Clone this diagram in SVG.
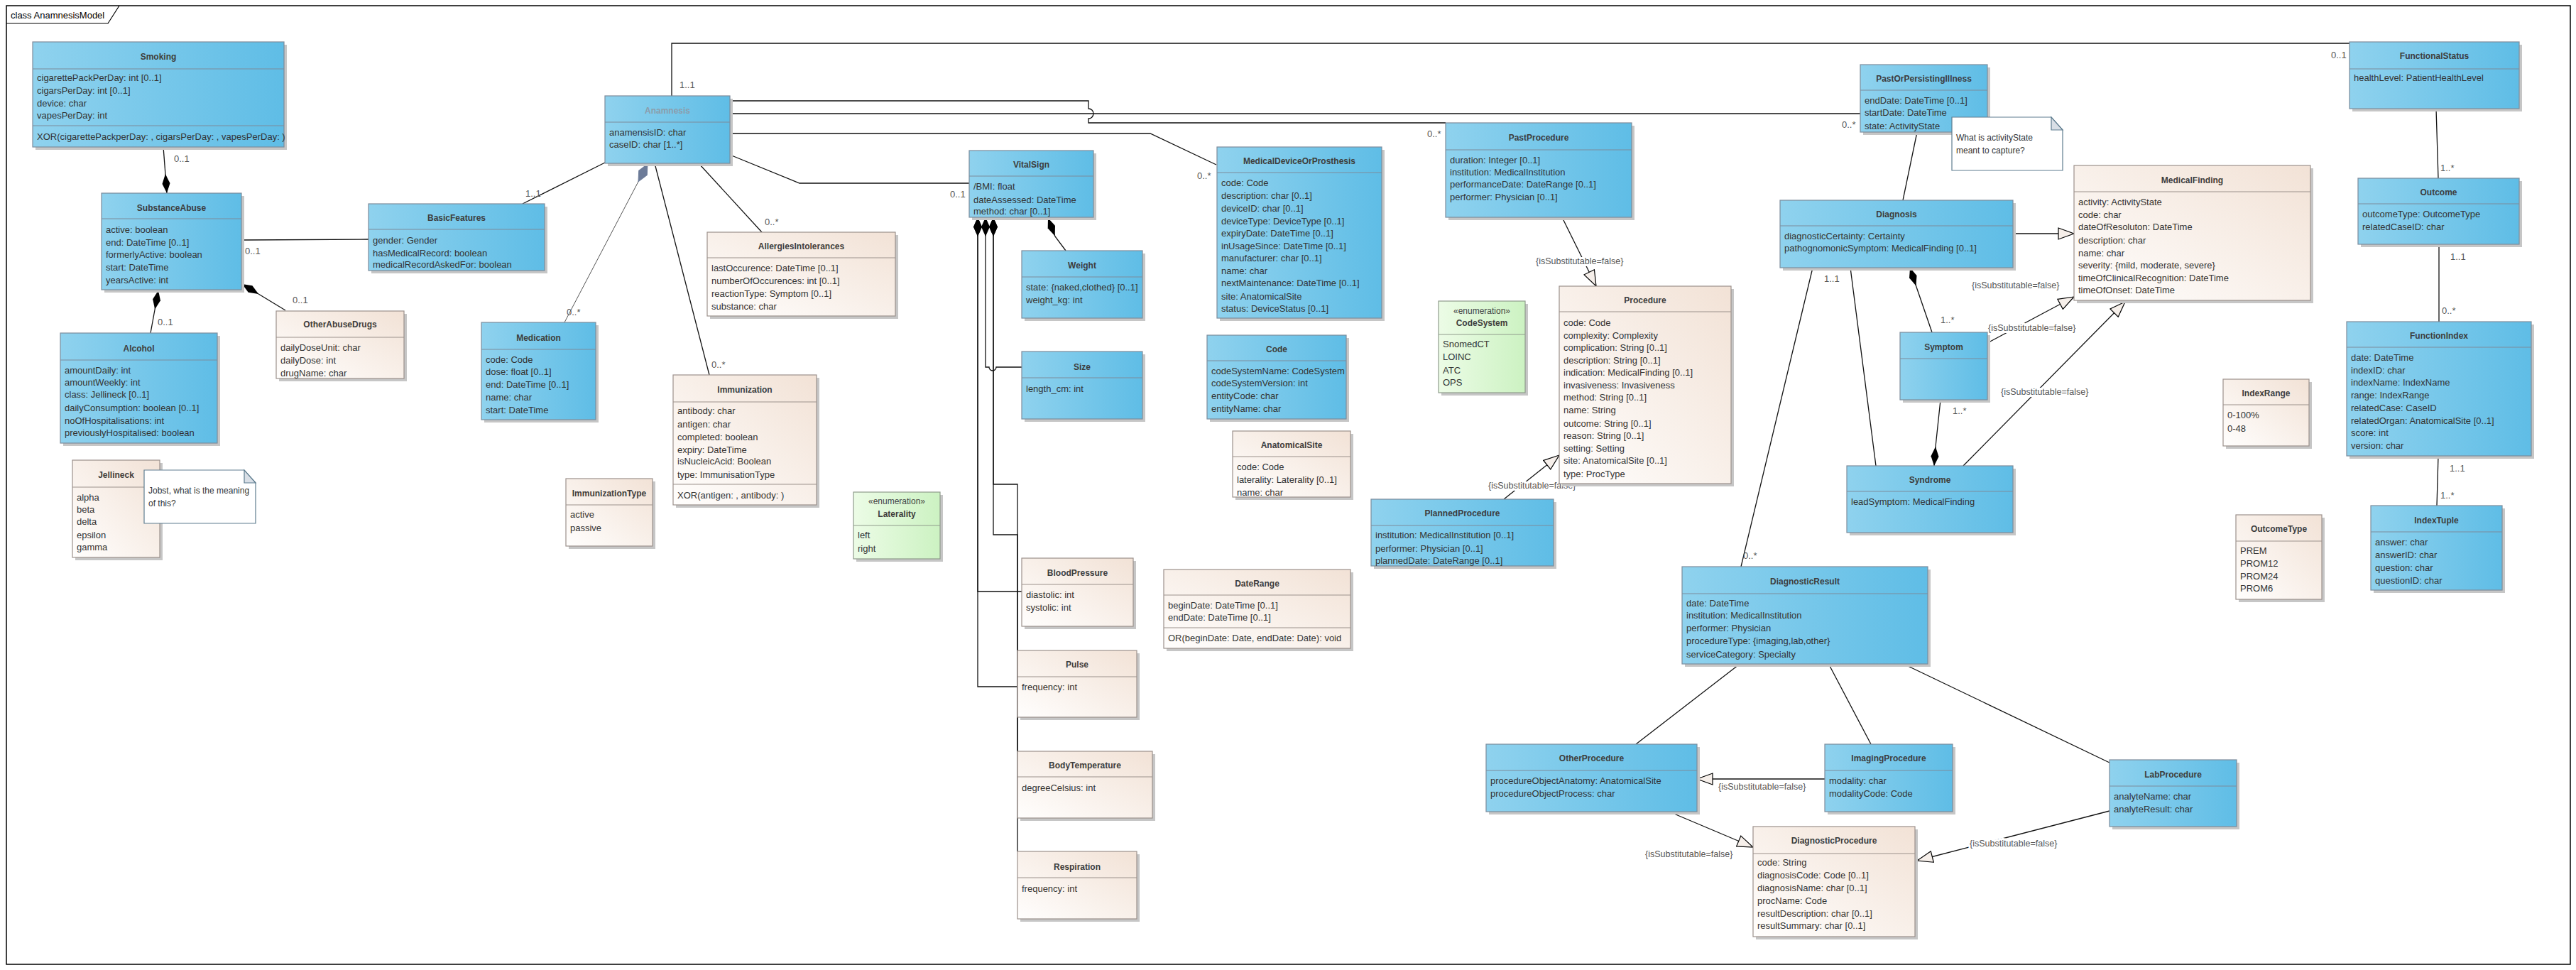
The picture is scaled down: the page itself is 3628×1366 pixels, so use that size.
<svg xmlns="http://www.w3.org/2000/svg" width="3628" height="1366" viewBox="0 0 3628 1366">
<defs>
<linearGradient id="gb" x1="0" y1="0" x2="1" y2="0"><stop offset="0" stop-color="#8fd2ee"/><stop offset="1" stop-color="#5fbde6"/></linearGradient>
<linearGradient id="gw" x1="0" y1="1" x2="1" y2="0"><stop offset="0" stop-color="#fffefd"/><stop offset="1" stop-color="#f2e2d6"/></linearGradient>
<linearGradient id="gg" x1="0" y1="0" x2="1" y2="0"><stop offset="0" stop-color="#ecfce6"/><stop offset="1" stop-color="#ccf2c2"/></linearGradient>
<marker id="dia" markerUnits="userSpaceOnUse" viewBox="0 -7 28 14" refX="0" refY="0" markerWidth="28" markerHeight="14" orient="auto"><path d="M0,0 L13.5,-5.5 L27,0 L13.5,5.5 Z" fill="#000"/></marker>
<marker id="diaw" markerUnits="userSpaceOnUse" viewBox="0 -7 28 14" refX="0" refY="0" markerWidth="28" markerHeight="14" orient="auto"><path d="M0,0 L13.5,-6 L27,0 L13.5,6 Z" fill="#000"/></marker>
<marker id="agg" markerUnits="userSpaceOnUse" viewBox="0 -8 30 16" refX="0" refY="0" markerWidth="30" markerHeight="16" orient="auto"><path d="M0,0 L14,-6.5 L28,0 L14,6.5 Z" fill="#6c7b98" stroke="#6c7b98"/></marker>
<marker id="gen" markerUnits="userSpaceOnUse" viewBox="-1 -1 24 18" refX="22" refY="8" markerWidth="24" markerHeight="18" orient="auto"><path d="M0,0 L22,8 L0,16 Z" fill="#f6efea" stroke="#000" stroke-width="1.2"/></marker>
</defs>
<style>
text{font-family:"Liberation Sans",Arial,sans-serif}
.t{font-size:12px;font-weight:bold;fill:#3d3d3d;text-anchor:middle}
.tg{font-size:12px;font-weight:bold;fill:#8c9cab;text-anchor:middle}
.st{font-size:12px;fill:#444;text-anchor:middle}
.a{font-size:13px;fill:#333}
.nt{font-size:12px;fill:#333}
.m{font-size:13px;fill:#555}
.s{font-size:12.5px;fill:#555;stroke:#fff;stroke-width:6;paint-order:stroke;stroke-linejoin:round}
.fr{font-size:13px;fill:#000}
.sh{fill:#c6c6c6}
.blue{fill:url(#gb);stroke:#7c8c9c;stroke-width:1.2}
.beige{fill:url(#gw);stroke:#9c918c;stroke-width:1.2}
.green{fill:url(#gg);stroke:#8f9c8c;stroke-width:1.2}
.sb{fill:none;stroke:#7c8c9c;stroke-width:1.2}
.sw{fill:none;stroke:#9c918c;stroke-width:1.2}
.sg{fill:none;stroke:#8f9c8c;stroke-width:1.2}
.note{fill:#fff;stroke:#5f7d8f;stroke-width:1.2}
.fold{fill:#d9dfe6;stroke:#5f7d8f;stroke-width:1.2}
.c{fill:none;stroke:#111;stroke-width:1.3}
.cg{fill:none;stroke:#555;stroke-width:1}
</style>
<rect x="0" y="0" width="3628" height="1366" fill="#fff"/>
<g id="frame">
<rect x="9" y="8" width="3611" height="1350" fill="none" stroke="#000" stroke-width="1.5"/>
<path d="M9,33 H152 L168,8" fill="none" stroke="#000" stroke-width="1.2"/>
<text class="fr" x="15" y="26">class AnamnesisModel</text>
</g>

<g id="connectors">
<path class="c" marker-start="url(#dia)" d="M235,272 L230,207"/>
<path class="c" d="M341,338 L519,337"/>
<path class="c" d="M852,229 L736,287"/>
<path class="c" marker-start="url(#dia)" d="M341,400 L402,437"/>
<path class="c" marker-start="url(#dia)" d="M223,409 L212,469"/>
<path class="cg" marker-start="url(#agg)" d="M912,231 L795,454"/>
<path class="c" d="M946,135 V61 H3309"/>
<path class="c" d="M1028,142 H1533 V153 A7,7 0 0 1 1533,167 V173 H2036"/>
<path class="c" d="M1028,160 H2620"/>
<path class="c" d="M1028,188 H1620 L1713,232"/>
<path class="c" d="M1028,218 L1126,258 H1365"/>
<path class="c" d="M984,230 L1073,327"/>
<path class="c" d="M922,230 L999,528"/>
<path class="c" marker-start="url(#dia)" d="M1476,307 L1486,333 L1501,353"/>
<path class="c" marker-start="url(#diaw)" d="M1377,306 V833 H1439"/>
<path class="c" marker-start="url(#diaw)" d="M1377,306 V967 H1433"/>
<path class="c" marker-start="url(#diaw)" d="M1388,306 V517 H1393 A5,5 0 0 0 1403,517 H1439"/>
<path class="c" marker-start="url(#diaw)" d="M1399,306 V682 H1433 V1058"/>
<path class="c" marker-start="url(#diaw)" d="M1399,306 V753 H1433 V1199"/>
<path class="c" d="M2700,186 L2680,282"/>
<path class="c" marker-end="url(#gen)" d="M2200,306 L2248,403"/>
<path class="c" marker-end="url(#gen)" d="M2118,703 L2196,641"/>
<path class="c" d="M2553,377 L2452,798"/>
<path class="c" d="M2606,377 L2642,656"/>
<path class="c" marker-start="url(#dia)" d="M2690,377 L2699,404 L2721,468"/>
<path class="c" marker-end="url(#gen)" d="M2835,329 L2921,329"/>
<path class="c" marker-end="url(#gen)" d="M2799,483 L2921,418"/>
<path class="c" marker-end="url(#gen)" d="M2765,656 L2993,425"/>
<path class="c" marker-start="url(#dia)" d="M2724,656 L2726,629 L2733,563"/>
<path class="c" d="M3431,153 L3434,251"/>
<path class="c" d="M3435,344 L3435,453"/>
<path class="c" d="M3434,642 L3432,712"/>
<path class="c" d="M2449,936 L2304,1048"/>
<path class="c" d="M2576,936 L2635,1048"/>
<path class="c" d="M2683,936 L2971,1074"/>
<path class="c" marker-end="url(#gen)" d="M2570,1097 L2390,1097"/>
<path class="c" marker-end="url(#gen)" d="M2353,1144 L2469,1193"/>
<path class="c" marker-end="url(#gen)" d="M2971,1142 L2700,1212"/>
<text class="m" x="245" y="228">0..1</text>
<text class="m" x="345" y="358">0..1</text>
<text class="m" x="740" y="277">1..1</text>
<text class="m" x="412" y="427">0..1</text>
<text class="m" x="222" y="458">0..1</text>
<text class="m" x="798" y="444">0..*</text>
<text class="m" x="957" y="124">1..1</text>
<text class="m" x="3283" y="82">0..1</text>
<text class="m" x="2010" y="193">0..*</text>
<text class="m" x="2594" y="180">0..*</text>
<text class="m" x="1686" y="252">0..*</text>
<text class="m" x="1338" y="278">0..1</text>
<text class="m" x="1077" y="317">0..*</text>
<text class="m" x="1002" y="518">0..*</text>
<text class="m" x="2455" y="787">0..*</text>
<text class="m" x="2569" y="397">1..1</text>
<text class="m" x="2733" y="455">1..*</text>
<text class="m" x="2750" y="583">1..*</text>
<text class="m" x="3437" y="241">1..*</text>
<text class="m" x="3451" y="366">1..1</text>
<text class="m" x="3439" y="442">0..*</text>
<text class="m" x="3450" y="664">1..1</text>
<text class="m" x="3437" y="702">1..*</text>
<text class="s" x="2163" y="372">{isSubstitutable=false}</text>
<text class="s" x="2096" y="688">{isSubstitutable=false}</text>
<text class="s" x="2777" y="406">{isSubstitutable=false}</text>
<text class="s" x="2800" y="466">{isSubstitutable=false}</text>
<text class="s" x="2818" y="556">{isSubstitutable=false}</text>
<text class="s" x="2420" y="1112">{isSubstitutable=false}</text>
<text class="s" x="2317" y="1207">{isSubstitutable=false}</text>
<text class="s" x="2774" y="1192">{isSubstitutable=false}</text>
</g>

<g id="n-smoking"><rect class="sh" x="50" y="63" width="354" height="148"/><rect class="blue" x="46" y="59" width="354" height="148"/><path class="sb" d="M46,97H400M46,177H400"/><text class="t" x="223" y="84">Smoking</text><text class="a" x="52" y="114">cigarettePackPerDay: int [0..1]</text><text class="a" x="52" y="132">cigarsPerDay: int [0..1]</text><text class="a" x="52" y="150">device: char</text><text class="a" x="52" y="167">vapesPerDay: int</text><text class="a" x="52" y="197">XOR(cigarettePackperDay: , cigarsPerDay: , vapesPerDay: )</text></g>

<g id="n-substanceabuse"><rect class="sh" x="147" y="276" width="197" height="136"/><rect class="blue" x="143" y="272" width="197" height="136"/><path class="sb" d="M143,308H340"/><text class="t" x="241.5" y="297">SubstanceAbuse</text><text class="a" x="149" y="328">active: boolean</text><text class="a" x="149" y="346">end: DateTime [0..1]</text><text class="a" x="149" y="363">formerlyActive: boolean</text><text class="a" x="149" y="381">start: DateTime</text><text class="a" x="149" y="399">yearsActive: int</text></g>

<g id="n-basicfeatures"><rect class="sh" x="523" y="291" width="248" height="94"/><rect class="blue" x="519" y="287" width="248" height="94"/><path class="sb" d="M519,323H767"/><text class="t" x="643" y="311">BasicFeatures</text><text class="a" x="525" y="343">gender: Gender</text><text class="a" x="525" y="361">hasMedicalRecord: boolean</text><text class="a" x="525" y="377">medicalRecordAskedFor: boolean</text></g>

<g id="n-anamnesis"><rect class="sh" x="856" y="139" width="176" height="95"/><rect class="blue" x="852" y="135" width="176" height="95"/><path class="sb" d="M852,172H1028"/><text class="tg" x="940" y="160">Anamnesis</text><text class="a" x="858" y="191">anamensisID: char</text><text class="a" x="858" y="208">caseID: char [1..*]</text></g>

<g id="n-alcohol"><rect class="sh" x="89" y="473" width="221" height="155"/><rect class="blue" x="85" y="469" width="221" height="155"/><path class="sb" d="M85,507H306"/><text class="t" x="195.5" y="495">Alcohol</text><text class="a" x="91" y="526">amountDaily: int</text><text class="a" x="91" y="543">amountWeekly: int</text><text class="a" x="91" y="560">class: Jellineck [0..1]</text><text class="a" x="91" y="579">dailyConsumption: boolean [0..1]</text><text class="a" x="91" y="597">noOfHospitalisations: int</text><text class="a" x="91" y="614">previouslyHospitalised: boolean</text></g>

<g id="n-otherabusedrugs"><rect class="sh" x="393" y="442" width="180" height="95"/><rect class="beige" x="389" y="438" width="180" height="95"/><path class="sw" d="M389,475H569"/><text class="t" x="479" y="461">OtherAbuseDrugs</text><text class="a" x="395" y="494">dailyDoseUnit: char</text><text class="a" x="395" y="512">dailyDose: int</text><text class="a" x="395" y="530">drugName: char</text></g>

<g id="n-medication"><rect class="sh" x="682" y="458" width="161" height="137"/><rect class="blue" x="678" y="454" width="161" height="137"/><path class="sb" d="M678,492H839"/><text class="t" x="758.5" y="480">Medication</text><text class="a" x="684" y="511">code: Code</text><text class="a" x="684" y="528">dose: float [0..1]</text><text class="a" x="684" y="546">end: DateTime [0..1]</text><text class="a" x="684" y="564">name: char</text><text class="a" x="684" y="582">start: DateTime</text></g>

<g id="n-jellineck"><rect class="sh" x="106" y="652" width="123" height="137"/><rect class="beige" x="102" y="648" width="123" height="137"/><path class="sw" d="M102,686H225"/><text class="t" x="163.5" y="673">Jellineck</text><text class="a" x="108" y="705">alpha</text><text class="a" x="108" y="722">beta</text><text class="a" x="108" y="739">delta</text><text class="a" x="108" y="758">epsilon</text><text class="a" x="108" y="775">gamma</text></g>

<g id="n-note1"><path class="note" d="M203,662 H344 L360,680 V737 H203 Z"/><path class="fold" d="M344,662 V680 H360 Z"/><text class="nt" x="209" y="695">Jobst, what is the meaning</text><text class="nt" x="209" y="713">of this?</text></g>

<g id="n-immunizationtype"><rect class="sh" x="801" y="678" width="122" height="95"/><rect class="beige" x="797" y="674" width="122" height="95"/><path class="sw" d="M797,711H919"/><text class="t" x="858" y="699">ImmunizationType</text><text class="a" x="803" y="729">active</text><text class="a" x="803" y="748">passive</text></g>

<g id="n-immunization"><rect class="sh" x="952" y="532" width="202" height="183"/><rect class="beige" x="948" y="528" width="202" height="183"/><path class="sw" d="M948,566H1150M948,682H1150"/><text class="t" x="1049" y="553">Immunization</text><text class="a" x="954" y="583">antibody: char</text><text class="a" x="954" y="602">antigen: char</text><text class="a" x="954" y="620">completed: boolean</text><text class="a" x="954" y="638">expiry: DateTime</text><text class="a" x="954" y="654">isNucleicAcid: Boolean</text><text class="a" x="954" y="673">type: ImmunisationType</text><text class="a" x="954" y="702">XOR(antigen: , antibody: )</text></g>

<g id="n-allergies"><rect class="sh" x="1000" y="331" width="265" height="118"/><rect class="beige" x="996" y="327" width="265" height="118"/><path class="sw" d="M996,363H1261"/><text class="t" x="1128.5" y="351">AllergiesIntolerances</text><text class="a" x="1002" y="382">lastOccurence: DateTime [0..1]</text><text class="a" x="1002" y="400">numberOfOccurences: int [0..1]</text><text class="a" x="1002" y="418">reactionType: Symptom [0..1]</text><text class="a" x="1002" y="436">substance: char</text></g>

<g id="n-laterality"><rect class="sh" x="1206" y="697" width="122" height="94"/><rect class="green" x="1202" y="693" width="122" height="94"/><path class="sg" d="M1202,740H1324"/><text class="st" x="1263" y="710">«enumeration»</text><text class="t" x="1263" y="728">Laterality</text><text class="a" x="1208" y="758">left</text><text class="a" x="1208" y="777">right</text></g>

<g id="n-vitalsign"><rect class="sh" x="1369" y="216" width="175" height="94"/><rect class="blue" x="1365" y="212" width="175" height="94"/><path class="sb" d="M1365,248H1540"/><text class="t" x="1452.5" y="236">VitalSign</text><text class="a" x="1371" y="267">/BMI: float</text><text class="a" x="1371" y="286">dateAssessed: DateTime</text><text class="a" x="1371" y="302">method: char [0..1]</text></g>

<g id="n-weight"><rect class="sh" x="1443" y="357" width="170" height="95"/><rect class="blue" x="1439" y="353" width="170" height="95"/><path class="sb" d="M1439,390H1609"/><text class="t" x="1524" y="378">Weight</text><text class="a" x="1445" y="409">state: {naked,clothed} [0..1]</text><text class="a" x="1445" y="427">weight_kg: int</text></g>

<g id="n-size"><rect class="sh" x="1443" y="499" width="170" height="95"/><rect class="blue" x="1439" y="495" width="170" height="95"/><path class="sb" d="M1439,532H1609"/><text class="t" x="1524" y="521">Size</text><text class="a" x="1445" y="552">length_cm: int</text></g>

<g id="n-bloodpressure"><rect class="sh" x="1443" y="790" width="157" height="96"/><rect class="beige" x="1439" y="786" width="157" height="96"/><path class="sw" d="M1439,823H1596"/><text class="t" x="1517.5" y="811">BloodPressure</text><text class="a" x="1445" y="842">diastolic: int</text><text class="a" x="1445" y="860">systolic: int</text></g>

<g id="n-pulse"><rect class="sh" x="1437" y="920" width="168" height="94"/><rect class="beige" x="1433" y="916" width="168" height="94"/><path class="sw" d="M1433,953H1601"/><text class="t" x="1517" y="940">Pulse</text><text class="a" x="1439" y="972">frequency: int</text></g>

<g id="n-bodytemperature"><rect class="sh" x="1437" y="1062" width="190" height="94"/><rect class="beige" x="1433" y="1058" width="190" height="94"/><path class="sw" d="M1433,1094H1623"/><text class="t" x="1528" y="1082">BodyTemperature</text><text class="a" x="1439" y="1114">degreeCelsius: int</text></g>

<g id="n-respiration"><rect class="sh" x="1437" y="1203" width="168" height="95"/><rect class="beige" x="1433" y="1199" width="168" height="95"/><path class="sw" d="M1433,1236H1601"/><text class="t" x="1517" y="1225">Respiration</text><text class="a" x="1439" y="1256">frequency: int</text></g>

<g id="n-medicaldevice"><rect class="sh" x="1718" y="211" width="232" height="241"/><rect class="blue" x="1714" y="207" width="232" height="241"/><path class="sb" d="M1714,243H1946"/><text class="t" x="1830" y="231">MedicalDeviceOrProsthesis</text><text class="a" x="1720" y="262">code: Code</text><text class="a" x="1720" y="280">description: char [0..1]</text><text class="a" x="1720" y="298">deviceID: char [0..1]</text><text class="a" x="1720" y="316">deviceType: DeviceType [0..1]</text><text class="a" x="1720" y="333">expiryDate: DateTime [0..1]</text><text class="a" x="1720" y="351">inUsageSince: DateTime [0..1]</text><text class="a" x="1720" y="368">manufacturer: char [0..1]</text><text class="a" x="1720" y="386">name: char</text><text class="a" x="1720" y="403">nextMaintenance: DateTime [0..1]</text><text class="a" x="1720" y="422">site: AnatomicalSite</text><text class="a" x="1720" y="439">status: DeviceStatus [0..1]</text></g>

<g id="n-code"><rect class="sh" x="1704" y="476" width="196" height="118"/><rect class="blue" x="1700" y="472" width="196" height="118"/><path class="sb" d="M1700,508H1896"/><text class="t" x="1798" y="496">Code</text><text class="a" x="1706" y="527">codeSystemName: CodeSystem</text><text class="a" x="1706" y="544">codeSystemVersion: int</text><text class="a" x="1706" y="562">entityCode: char</text><text class="a" x="1706" y="580">entityName: char</text></g>

<g id="n-anatomicalsite"><rect class="sh" x="1740" y="611" width="166" height="93"/><rect class="beige" x="1736" y="607" width="166" height="93"/><path class="sw" d="M1736,643H1902"/><text class="t" x="1819" y="631">AnatomicalSite</text><text class="a" x="1742" y="662">code: Code</text><text class="a" x="1742" y="680">laterality: Laterality [0..1]</text><text class="a" x="1742" y="698">name: char</text></g>

<g id="n-daterange"><rect class="sh" x="1643" y="806" width="263" height="111"/><rect class="beige" x="1639" y="802" width="263" height="111"/><path class="sw" d="M1639,838H1902M1639,884H1902"/><text class="t" x="1770.5" y="826">DateRange</text><text class="a" x="1645" y="857">beginDate: DateTime [0..1]</text><text class="a" x="1645" y="874">endDate: DateTime [0..1]</text><text class="a" x="1645" y="903">OR(beginDate: Date, endDate: Date): void</text></g>

<g id="n-pastprocedure"><rect class="sh" x="2040" y="177" width="262" height="133"/><rect class="blue" x="2036" y="173" width="262" height="133"/><path class="sb" d="M2036,211H2298"/><text class="t" x="2167" y="198">PastProcedure</text><text class="a" x="2042" y="230">duration: Integer [0..1]</text><text class="a" x="2042" y="247">institution: MedicalInstitution</text><text class="a" x="2042" y="264">performanceDate: DateRange [0..1]</text><text class="a" x="2042" y="282">performer: Physician [0..1]</text></g>

<g id="n-codesystem"><rect class="sh" x="2030" y="428" width="122" height="129"/><rect class="green" x="2026" y="424" width="122" height="129"/><path class="sg" d="M2026,471H2148"/><text class="st" x="2087" y="442">«enumeration»</text><text class="t" x="2087" y="459">CodeSystem</text><text class="a" x="2032" y="489">SnomedCT</text><text class="a" x="2032" y="507">LOINC</text><text class="a" x="2032" y="526">ATC</text><text class="a" x="2032" y="543">OPS</text></g>

<g id="n-procedure"><rect class="sh" x="2200" y="407" width="242" height="278"/><rect class="beige" x="2196" y="403" width="242" height="278"/><path class="sw" d="M2196,439H2438"/><text class="t" x="2317" y="427">Procedure</text><text class="a" x="2202" y="459">code: Code</text><text class="a" x="2202" y="477">complexity: Complexity</text><text class="a" x="2202" y="494">complication: String [0..1]</text><text class="a" x="2202" y="512">description: String [0..1]</text><text class="a" x="2202" y="529">indication: MedicalFinding [0..1]</text><text class="a" x="2202" y="547">invasiveness: Invasiveness</text><text class="a" x="2202" y="564">method: String [0..1]</text><text class="a" x="2202" y="582">name: String</text><text class="a" x="2202" y="601">outcome: String [0..1]</text><text class="a" x="2202" y="618">reason: String [0..1]</text><text class="a" x="2202" y="636">setting: Setting</text><text class="a" x="2202" y="653">site: AnatomicalSite [0..1]</text><text class="a" x="2202" y="672">type: ProcType</text></g>

<g id="n-plannedprocedure"><rect class="sh" x="1935" y="707" width="257" height="94"/><rect class="blue" x="1931" y="703" width="257" height="94"/><path class="sb" d="M1931,740H2188"/><text class="t" x="2059.5" y="727">PlannedProcedure</text><text class="a" x="1937" y="758">institution: MedicalInstitution [0..1]</text><text class="a" x="1937" y="777">performer: Physician [0..1]</text><text class="a" x="1937" y="794">plannedDate: DateRange [0..1]</text></g>

<g id="n-pastorpersistingillness"><rect class="sh" x="2624" y="95" width="179" height="95"/><rect class="blue" x="2620" y="91" width="179" height="95"/><path class="sb" d="M2620,127H2799"/><text class="t" x="2709.5" y="115">PastOrPersistingIllness</text><text class="a" x="2626" y="146">endDate: DateTime [0..1]</text><text class="a" x="2626" y="163">startDate: DateTime</text><text class="a" x="2626" y="182">state: ActivityState</text></g>

<g id="n-note2"><path class="note" d="M2749,165 H2889 L2905,183 V240 H2749 Z"/><path class="fold" d="M2889,165 V183 H2905 Z"/><text class="nt" x="2755" y="198">What is activityState</text><text class="nt" x="2755" y="216">meant to capture?</text></g>

<g id="n-diagnosis"><rect class="sh" x="2511" y="286" width="328" height="95"/><rect class="blue" x="2507" y="282" width="328" height="95"/><path class="sb" d="M2507,318H2835"/><text class="t" x="2671" y="306">Diagnosis</text><text class="a" x="2513" y="337">diagnosticCertainty: Certainty</text><text class="a" x="2513" y="354">pathognomonicSymptom: MedicalFinding [0..1]</text></g>

<g id="n-medicalfinding"><rect class="sh" x="2925" y="237" width="333" height="190"/><rect class="beige" x="2921" y="233" width="333" height="190"/><path class="sw" d="M2921,270H3254"/><text class="t" x="3087.5" y="258">MedicalFinding</text><text class="a" x="2927" y="289">activity: ActivityState</text><text class="a" x="2927" y="307">code: char</text><text class="a" x="2927" y="324">dateOfResoluton: DateTime</text><text class="a" x="2927" y="343">description: char</text><text class="a" x="2927" y="361">name: char</text><text class="a" x="2927" y="378">severity: {mild, moderate, severe}</text><text class="a" x="2927" y="396">timeOfClinicalRecognition: DateTime</text><text class="a" x="2927" y="413">timeOfOnset: DateTime</text></g>

<g id="n-symptom"><rect class="sh" x="2680" y="472" width="123" height="95"/><rect class="blue" x="2676" y="468" width="123" height="95"/><path class="sb" d="M2676,505H2799"/><text class="t" x="2737.5" y="493">Symptom</text></g>

<g id="n-syndrome"><rect class="sh" x="2605" y="660" width="234" height="94"/><rect class="blue" x="2601" y="656" width="234" height="94"/><path class="sb" d="M2601,692H2835"/><text class="t" x="2718" y="680">Syndrome</text><text class="a" x="2607" y="711">leadSymptom: MedicalFinding</text></g>

<g id="n-functionalstatus"><rect class="sh" x="3313" y="63" width="239" height="94"/><rect class="blue" x="3309" y="59" width="239" height="94"/><path class="sb" d="M3309,97H3548"/><text class="t" x="3428.5" y="83">FunctionalStatus</text><text class="a" x="3315" y="114">healthLevel: PatientHealthLevel</text></g>

<g id="n-outcome"><rect class="sh" x="3325" y="255" width="227" height="93"/><rect class="blue" x="3321" y="251" width="227" height="93"/><path class="sb" d="M3321,287H3548"/><text class="t" x="3434.5" y="275">Outcome</text><text class="a" x="3327" y="306">outcomeType: OutcomeType</text><text class="a" x="3327" y="324">relatedCaseID: char</text></g>

<g id="n-functionindex"><rect class="sh" x="3309" y="457" width="260" height="189"/><rect class="blue" x="3305" y="453" width="260" height="189"/><path class="sb" d="M3305,489H3565"/><text class="t" x="3435" y="477">FunctionIndex</text><text class="a" x="3311" y="508">date: DateTime</text><text class="a" x="3311" y="526">indexID: char</text><text class="a" x="3311" y="543">indexName: IndexName</text><text class="a" x="3311" y="561">range: IndexRange</text><text class="a" x="3311" y="579">relatedCase: CaseID</text><text class="a" x="3311" y="597">relatedOrgan: AnatomicalSite [0..1]</text><text class="a" x="3311" y="614">score: int</text><text class="a" x="3311" y="632">version: char</text></g>

<g id="n-indextuple"><rect class="sh" x="3343" y="716" width="185" height="119"/><rect class="blue" x="3339" y="712" width="185" height="119"/><path class="sb" d="M3339,749H3524"/><text class="t" x="3431.5" y="737">IndexTuple</text><text class="a" x="3345" y="768">answer: char</text><text class="a" x="3345" y="786">answerID: char</text><text class="a" x="3345" y="804">question: char</text><text class="a" x="3345" y="822">questionID: char</text></g>

<g id="n-indexrange"><rect class="sh" x="3135" y="538" width="121" height="94"/><rect class="beige" x="3131" y="534" width="121" height="94"/><path class="sw" d="M3131,570H3252"/><text class="t" x="3191.5" y="558">IndexRange</text><text class="a" x="3137" y="589">0-100%</text><text class="a" x="3137" y="608">0-48</text></g>

<g id="n-outcometype"><rect class="sh" x="3153" y="729" width="121" height="119"/><rect class="beige" x="3149" y="725" width="121" height="119"/><path class="sw" d="M3149,762H3270"/><text class="t" x="3209.5" y="749">OutcomeType</text><text class="a" x="3155" y="780">PREM</text><text class="a" x="3155" y="798">PROM12</text><text class="a" x="3155" y="816">PROM24</text><text class="a" x="3155" y="833">PROM6</text></g>

<g id="n-diagnosticresult"><rect class="sh" x="2373" y="802" width="346" height="137"/><rect class="blue" x="2369" y="798" width="346" height="137"/><path class="sb" d="M2369,836H2715"/><text class="t" x="2542" y="823">DiagnosticResult</text><text class="a" x="2375" y="854">date: DateTime</text><text class="a" x="2375" y="871">institution: MedicalInstitution</text><text class="a" x="2375" y="889">performer: Physician</text><text class="a" x="2375" y="907">procedureType: {imaging,lab,other}</text><text class="a" x="2375" y="926">serviceCategory: Specialty</text></g>

<g id="n-otherprocedure"><rect class="sh" x="2097" y="1052" width="297" height="95"/><rect class="blue" x="2093" y="1048" width="297" height="95"/><path class="sb" d="M2093,1085H2390"/><text class="t" x="2241.5" y="1072">OtherProcedure</text><text class="a" x="2099" y="1104">procedureObjectAnatomy: AnatomicalSite</text><text class="a" x="2099" y="1122">procedureObjectProcess: char</text></g>

<g id="n-imagingprocedure"><rect class="sh" x="2574" y="1052" width="180" height="95"/><rect class="blue" x="2570" y="1048" width="180" height="95"/><path class="sb" d="M2570,1085H2750"/><text class="t" x="2660" y="1072">ImagingProcedure</text><text class="a" x="2576" y="1104">modality: char</text><text class="a" x="2576" y="1122">modalityCode: Code</text></g>

<g id="n-diagnosticprocedure"><rect class="sh" x="2473" y="1168" width="228" height="155"/><rect class="beige" x="2469" y="1164" width="228" height="155"/><path class="sw" d="M2469,1202H2697"/><text class="t" x="2583" y="1188">DiagnosticProcedure</text><text class="a" x="2475" y="1219">code: String</text><text class="a" x="2475" y="1237">diagnosisCode: Code [0..1]</text><text class="a" x="2475" y="1255">diagnosisName: char [0..1]</text><text class="a" x="2475" y="1273">procName: Code</text><text class="a" x="2475" y="1291">resultDescription: char [0..1]</text><text class="a" x="2475" y="1308">resultSummary: char [0..1]</text></g>

<g id="n-labprocedure"><rect class="sh" x="2975" y="1074" width="179" height="94"/><rect class="blue" x="2971" y="1070" width="179" height="94"/><path class="sb" d="M2971,1107H3150"/><text class="t" x="3060.5" y="1095">LabProcedure</text><text class="a" x="2977" y="1126">analyteName: char</text><text class="a" x="2977" y="1144">analyteResult: char</text></g>
</svg>
